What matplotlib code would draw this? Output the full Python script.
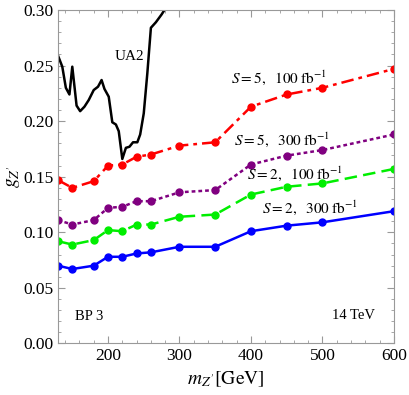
import matplotlib
matplotlib.use('Agg')
import matplotlib.pyplot as plt
from matplotlib.ticker import MultipleLocator

plt.rcParams['font.family'] = ['Liberation Serif', 'DejaVu Serif']
plt.rcParams['mathtext.fontset'] = 'stix'

# Z' masses (GeV)
mass = [130, 150, 180, 200, 220, 240, 260, 300, 350, 400, 450, 500, 600]

# coupling reach, 14 TeV
g_s5_100 = [0.147, 0.140, 0.146, 0.160, 0.161, 0.168, 0.170, 0.178, 0.181, 0.213, 0.224, 0.230, 0.247]
g_s5_300 = [0.111, 0.107, 0.111, 0.122, 0.123, 0.128, 0.128, 0.136, 0.138, 0.161, 0.169, 0.174, 0.188]
g_s2_100 = [0.092, 0.089, 0.093, 0.102, 0.101, 0.107, 0.107, 0.114, 0.116, 0.134, 0.141, 0.144, 0.157]
g_s2_300 = [0.070, 0.067, 0.070, 0.078, 0.078, 0.081, 0.082, 0.087, 0.087, 0.101, 0.106, 0.109, 0.119]

# UA2 exclusion curve
ua2_m = [130, 136, 141, 146, 150, 156, 161, 167, 173, 180, 186, 191, 195, 201, 206,
         211, 215, 220, 225, 230, 235, 241, 245, 250, 255, 260, 267, 275, 282]
ua2_g = [0.259, 0.249, 0.230, 0.224, 0.249, 0.214, 0.209, 0.213, 0.219, 0.228, 0.231,
         0.237, 0.229, 0.222, 0.199, 0.197, 0.191, 0.166, 0.176, 0.177, 0.181, 0.181,
         0.188, 0.207, 0.243, 0.284, 0.289, 0.296, 0.303]

fig = plt.figure(figsize=(4.09, 3.95), dpi=100)
ax = fig.add_axes([0.1418, 0.1304, 0.8212, 0.8443])

ax.plot(ua2_m, ua2_g, color='black', lw=1.8)
ax.plot(mass, g_s5_100, color='#ff0000', lw=1.8, ls=(0, (5, 2, 1.5, 2)), marker='o', ms=5)
ax.plot(mass, g_s5_300, color='#800080', lw=1.8, ls=(0, (1.5, 1.2)), marker='o', ms=5)
ax.plot(mass, g_s2_100, color='#00ee00', lw=1.8, ls=(0, (5, 2.5)), marker='o', ms=5)
ax.plot(mass, g_s2_300, color='#0000ff', lw=1.8, ls='-', marker='o', ms=5)

ax.text(230, 0.258, 'UA2', fontsize=11, ha='center', va='center')
ax.text(439, 0.239, r'$S=5,\ \ 100\;\mathrm{fb}^{-1}$', fontsize=11, ha='center', va='center')
ax.text(444, 0.183, r'$S=5,\ \ 300\;\mathrm{fb}^{-1}$', fontsize=11, ha='center', va='center')
ax.text(461, 0.1526, r'$S=2,\ \ 100\;\mathrm{fb}^{-1}$', fontsize=11, ha='center', va='center')
ax.text(482, 0.1217, r'$S=2,\ \ 300\;\mathrm{fb}^{-1}$', fontsize=11, ha='center', va='center')
ax.text(174, 0.024, 'BP 3', fontsize=10.5, ha='center', va='center')
ax.text(543, 0.025, '14 TeV', fontsize=10.5, ha='center', va='center')

ax.set_xlim(130, 600)
ax.set_ylim(0, 0.30)
ax.xaxis.set_major_locator(MultipleLocator(100))
ax.xaxis.set_minor_locator(MultipleLocator(20))
ax.yaxis.set_major_locator(MultipleLocator(0.05))
ax.yaxis.set_minor_locator(MultipleLocator(0.01))
ax.yaxis.set_major_formatter(matplotlib.ticker.FormatStrFormatter('%.2f'))

for s in ax.spines.values():
    s.set_color('#999999')
ax.tick_params(which='both', direction='in', top=True, right=True, color='#999999', labelsize=12.5)
ax.tick_params(which='major', length=5)
ax.tick_params(which='minor', length=2.5)

ax.set_xlabel(r"$m_{Z'}[\mathrm{GeV}]$", fontsize=14)
ax.set_ylabel(r"$g_{Z'}$", fontsize=14, labelpad=0)

fig.savefig('out.png', dpi=100)
